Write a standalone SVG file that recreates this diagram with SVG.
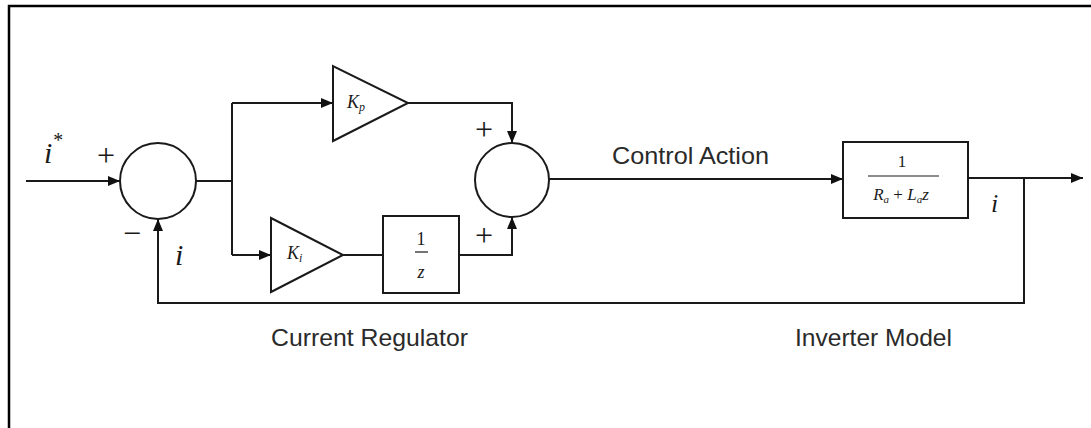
<svg xmlns="http://www.w3.org/2000/svg" width="1091" height="428" viewBox="0 0 1091 428">
<style>
.ln{fill:none;stroke:#1a1a1a;stroke-width:2}
.nd{fill:#fff;stroke:#1a1a1a;stroke-width:2}
.m{font-family:"Liberation Serif",serif;font-style:italic;fill:#1a1a1a}
.s{font-family:"Liberation Serif",serif;fill:#1a1a1a}
.t{font-family:"Liberation Sans",Arial,sans-serif;font-size:24px;fill:#2a2a2a}
</style>
<defs>
<marker id="ah" viewBox="0 0 12 10" refX="12" refY="5" markerWidth="12" markerHeight="10" markerUnits="userSpaceOnUse" orient="auto"><path d="M0,0 L12,5 L0,10 z" fill="#111"/></marker>
</defs>
<rect width="1091" height="428" fill="#fff"/>
<path d="M9,428 V6 H1091" fill="none" stroke="#000" stroke-width="2.5"/>
<g id="connectors">
<path class="ln" d="M26,181 H120" marker-end="url(#ah)"/>
<path class="ln" d="M196,181 H232"/>
<path class="ln" d="M232,103 V255"/>
<path class="ln" d="M232,103 H333" marker-end="url(#ah)"/>
<path class="ln" d="M232,255 H271" marker-end="url(#ah)"/>
<path class="ln" d="M408,103 H512 V143" marker-end="url(#ah)"/>
<path class="ln" d="M343,255 H383"/>
<path class="ln" d="M459,255 H512 V217" marker-end="url(#ah)"/>
<path class="ln" d="M549,179 H843" marker-end="url(#ah)"/>
<path class="ln" d="M968,178 H1083" marker-end="url(#ah)"/>
<path class="ln" d="M1024,178 V303 H158 V219" marker-end="url(#ah)"/>
</g>
<g id="sum1">
<circle class="nd" cx="158" cy="181" r="38"/>
<text class="s" x="106" y="166" font-size="32" text-anchor="middle">+</text>
<text class="s" x="132" y="244" font-size="32" text-anchor="middle">−</text>
</g>
<g id="input-label"><text class="m" x="44" y="163" font-size="30">i<tspan font-size="20" dy="-16">*</tspan></text></g>
<g id="feedback-label"><text class="m" x="175" y="265" font-size="30">i</text></g>
<g id="kp">
<polygon class="nd" points="333,66 333,141 408,103"/>
<text class="m" x="347" y="108" font-size="18">K<tspan font-size="12" dy="3">p</tspan></text>
</g>
<g id="ki">
<polygon class="nd" points="271,218 271,292 343,255"/>
<text class="m" x="287" y="259" font-size="18">K<tspan font-size="12" dy="3">i</tspan></text>
</g>
<g id="integrator">
<rect class="nd" x="383" y="216" width="76" height="77"/>
<text class="s" x="421" y="245" font-size="18" text-anchor="middle">1</text>
<line x1="415" y1="252" x2="428" y2="252" stroke="#1a1a1a" stroke-width="1.2"/>
<text class="m" x="421" y="278" font-size="18" text-anchor="middle">z</text>
</g>
<g id="sum2">
<circle class="nd" cx="512" cy="180" r="37"/>
<text class="s" x="484" y="140" font-size="32" text-anchor="middle">+</text>
<text class="s" x="484" y="246" font-size="32" text-anchor="middle">+</text>
</g>
<g id="control-action"><text class="t" x="612" y="164" textLength="157" lengthAdjust="spacingAndGlyphs">Control Action</text></g>
<g id="inverter">
<rect class="nd" x="843" y="142" width="125" height="76"/>
<text class="s" x="902" y="167" font-size="17" text-anchor="middle">1</text>
<line x1="868" y1="176" x2="939" y2="176" stroke="#1a1a1a" stroke-width="1.2"/>
<text class="m" x="901" y="200" font-size="17" text-anchor="middle">R<tspan font-size="11" dy="3">a</tspan><tspan dy="-3" font-style="normal"> + </tspan>L<tspan font-size="11" dy="3">a</tspan><tspan dy="-3">z</tspan></text>
</g>
<g id="output-label"><text class="m" x="991" y="212" font-size="26">i</text></g>
<g id="current-regulator"><text class="t" x="271" y="346" textLength="197" lengthAdjust="spacingAndGlyphs">Current Regulator</text></g>
<g id="inverter-model"><text class="t" x="795" y="346" textLength="157" lengthAdjust="spacingAndGlyphs">Inverter Model</text></g>
</svg>
